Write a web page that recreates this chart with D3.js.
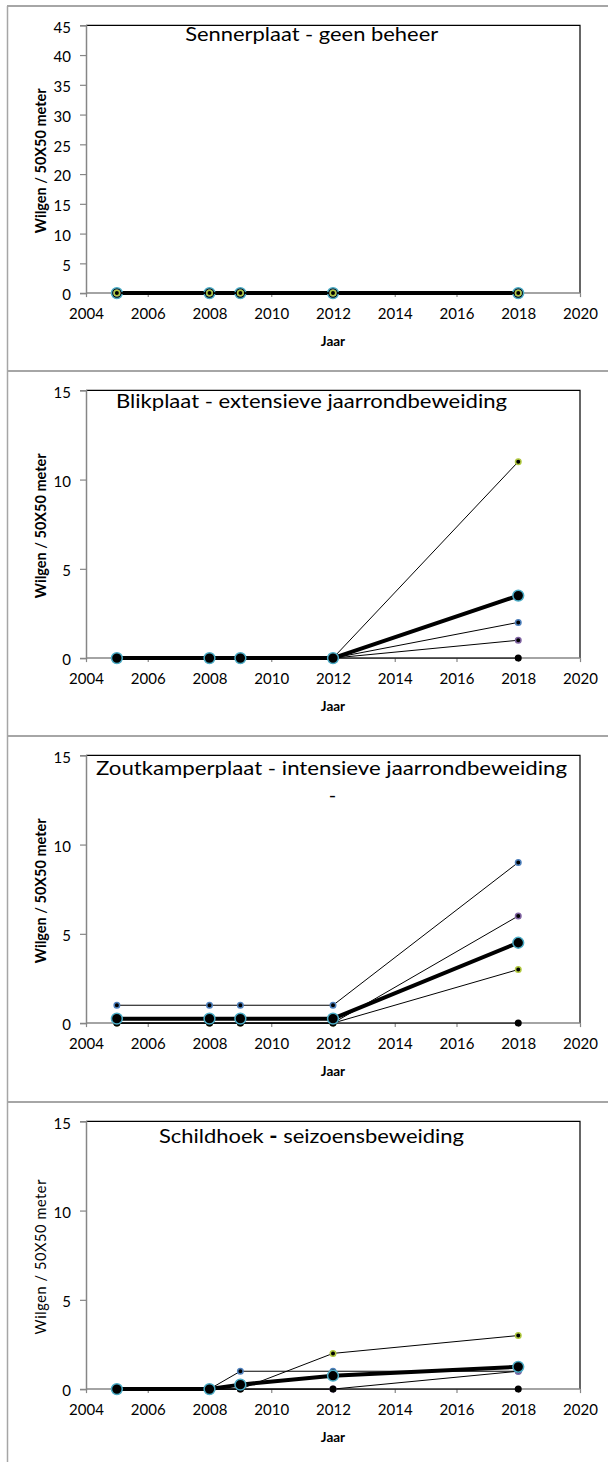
<!DOCTYPE html>
<html>
<head>
<meta charset="utf-8">
<script src="https://cdn.jsdelivr.net/npm/d3@7"></script>
<style>
  body { margin: 0; background: #fff; }
  svg { display: block; }
  text { font-family: Lato, "Open Sans", "Liberation Sans", sans-serif; fill: #000; }
</style>
</head>
<body>
<svg id="chart" width="608" height="1462"></svg>
<script>
// Survey years and axis ticks
const years = [2005, 2008, 2009, 2012, 2018];
const xTicks = [2004, 2006, 2008, 2010, 2012, 2014, 2016, 2018, 2020];
const yTicksWide = [0, 5, 10, 15, 20, 25, 30, 35, 40, 45];
const yTicksNarrow = [0, 5, 10, 15];

// Willows per 50x50 m plot, one array per plot, one value per survey year
const sennerplaat = [
  [0, 0, 0, 0, 0],
  [0, 0, 0, 0, 0],
  [0, 0, 0, 0, 0],
  [0, 0, 0, 0, 0]
];
const blikplaat = [
  [0, 0, 0, 0, 11],
  [0, 0, 0, 0, 2],
  [0, 0, 0, 0, 1],
  [0, 0, 0, 0, 0]
];
const zoutkamperplaat = [
  [1, 1, 1, 1, 9],
  [0, 0, 0, 0, 6],
  [0, 0, 0, 0, 3],
  [0, 0, 0, 0, 0]
];
const schildhoek = [
  [0, 0, 0, 2, 3],
  [0, 0, 1, 1, 1],
  [0, 0, 0, 0, 1],
  [0, 0, 0, 0, 0]
];

// Marker edge colours of the individual plots
const sennerplaatColors = ["#000000", "#8064a2", "#4f81bd", "#b0c840"];
const blikplaatColors = ["#b0c840", "#4f81bd", "#8064a2", "#000000"];
const zoutkamperplaatColors = ["#4f81bd", "#8064a2", "#b0c840", "#000000"];
const schildhoekColors = ["#b0c840", "#4f81bd", "#8064a2", "#000000"];

const titles = [
  "Sennerplaat - geen beheer",
  "Blikplaat - extensieve jaarrondbeweiding",
  "Zoutkamperplaat - intensieve jaarrondbeweiding",
  "Schildhoek - seizoensbeweiding"
];
const yLabel = "Wilgen / 50X50 meter";
const xLabel = "Jaar";

// Panel setup
const panels = [
  { data: sennerplaat, colors: sennerplaatColors, title: titles[0], yMax: 45, yTicks: yTicksWide,
    top: 6, titleX: 311.7, titleDy: 35, titleLen: 253, meanBelow: true, boldLabel: true },
  { data: blikplaat, colors: blikplaatColors, title: titles[1], yMax: 15, yTicks: yTicksNarrow,
    top: 371, titleX: 311.5, titleDy: 36.5, titleLen: 391, meanBelow: false, boldLabel: true },
  { data: zoutkamperplaat, colors: zoutkamperplaatColors, title: titles[2], yMax: 15, yTicks: yTicksNarrow,
    top: 736, titleX: 331.5, titleDy: 39, titleLen: 471, meanBelow: false, boldLabel: true, secondLine: "-" },
  { data: schildhoek, colors: schildhoekColors, title: titles[3], yMax: 15, yTicks: yTicksNarrow,
    top: 1102, titleX: 311.5, titleDy: 41.3, titleLen: 305, meanBelow: false, boldLabel: false, boldDash: true }
];

const svg = d3.select("#chart");
const plotLeft = 86, plotRight = 580, plotOffset = 19.3, plotHeight = 267.8;
const axisGrey = "#868686", frameGrey = "#a6a6a6";

// Outer frames of the stacked panels
svg.append("line").attr("x1", 7.5).attr("x2", 7.5).attr("y1", 6).attr("y2", 1462)
  .attr("stroke", frameGrey).attr("stroke-width", 1.5);
panels.forEach(p => {
  svg.append("line").attr("x1", 7).attr("x2", 608).attr("y1", p.top).attr("y2", p.top)
    .attr("stroke", frameGrey).attr("stroke-width", 2);
});

panels.forEach(p => {
  const top = p.top + plotOffset;
  const bottom = top + plotHeight;
  const x = d3.scaleLinear().domain([2004, 2020]).range([plotLeft, plotRight]);
  const y = d3.scaleLinear().domain([0, p.yMax]).range([bottom, top]);
  const g = svg.append("g");

  // plot area border (top and right)
  g.append("path")
    .attr("d", `M${plotLeft},${top}H${plotRight}V${bottom}`)
    .attr("fill", "none").attr("stroke", "#000").attr("stroke-width", 1.2);

  // axes
  const yAxis = g.append("g").attr("transform", `translate(${plotLeft},0)`)
    .call(d3.axisLeft(y).tickValues(p.yTicks).tickSize(6).tickPadding(9).tickFormat(d3.format("d")));
  const xAxis = g.append("g").attr("transform", `translate(0,${bottom})`)
    .call(d3.axisBottom(x).tickValues(xTicks).tickSize(4).tickPadding(11).tickFormat(d3.format("d")));
  [yAxis, xAxis].forEach(a => {
    a.select(".domain").attr("stroke", axisGrey).attr("stroke-width", 1.5);
    a.selectAll(".tick line").attr("stroke", axisGrey).attr("stroke-width", 1.2);
    a.selectAll(".tick text").attr("font-size", 15).attr("font-family", "Lato").attr("fill", "#000");
  });
  yAxis.selectAll(".tick text").attr("dy", "0.45em");
  xAxis.select(".domain").attr("d", `M${plotLeft},0H${plotRight}`);

  const line = d3.line().x((d, i) => x(years[i])).y(d => y(d));
  const mean = years.map((yr, i) => d3.mean(p.data, s => s[i]));

  const drawMean = () => {
    g.append("path").datum(mean).attr("d", line)
      .attr("fill", "none").attr("stroke", "#000").attr("stroke-width", 4).attr("stroke-linejoin", "round");
    g.selectAll(null).data(mean).enter().append("circle")
      .attr("cx", (d, i) => x(years[i])).attr("cy", d => y(d)).attr("r", 5.4)
      .attr("fill", "#000").attr("stroke", "#4bacc6").attr("stroke-width", 1.5);
  };
  const drawSeries = () => {
    p.data.forEach(s => {
      g.append("path").datum(s).attr("d", line)
        .attr("fill", "none").attr("stroke", "#000").attr("stroke-width", 1);
    });
    p.data.forEach((s, k) => {
      g.selectAll(null).data(s).enter().append("circle")
        .attr("cx", (d, i) => x(years[i])).attr("cy", d => y(d)).attr("r", 2.75)
        .attr("fill", "#000").attr("stroke", p.colors[k]).attr("stroke-width", 1.5);
    });
  };
  if (p.meanBelow) { drawMean(); drawSeries(); } else { drawSeries(); drawMean(); }

  // title
  const t = g.append("text").attr("x", p.titleX).attr("y", p.top + p.titleDy)
    .attr("text-anchor", "middle").attr("font-size", 20);
  if (p.boldDash) {
    const parts = p.title.split(" - ");
    t.append("tspan").text(parts[0] + " ");
    t.append("tspan").attr("font-weight", 900).text("-");
    t.append("tspan").text(" " + parts[1]);
  } else {
    t.text(p.title);
  }
  t.attr("textLength", p.titleLen).attr("lengthAdjust", "spacingAndGlyphs");
  if (p.secondLine) {
    g.append("text").attr("x", p.titleX + 1).attr("y", p.top + p.titleDy + 27)
      .attr("text-anchor", "middle").attr("font-size", 20).text(p.secondLine);
  }

  // axis titles
  g.append("text")
    .attr("transform", `translate(45.5,${(top + bottom) / 2 + 1.5}) rotate(-90)`)
    .attr("text-anchor", "middle").attr("font-size", 14.5)
    .attr("font-weight", p.boldLabel ? 700 : 400)
    .attr("letter-spacing", p.boldLabel ? 0 : 0.6)
    .text(yLabel);
  g.append("text").attr("x", (plotLeft + plotRight) / 2).attr("y", bottom + 52.5)
    .attr("text-anchor", "middle").attr("font-size", 13.5).attr("font-weight", 700)
    .text(xLabel);
});
</script>
</body>
</html>
